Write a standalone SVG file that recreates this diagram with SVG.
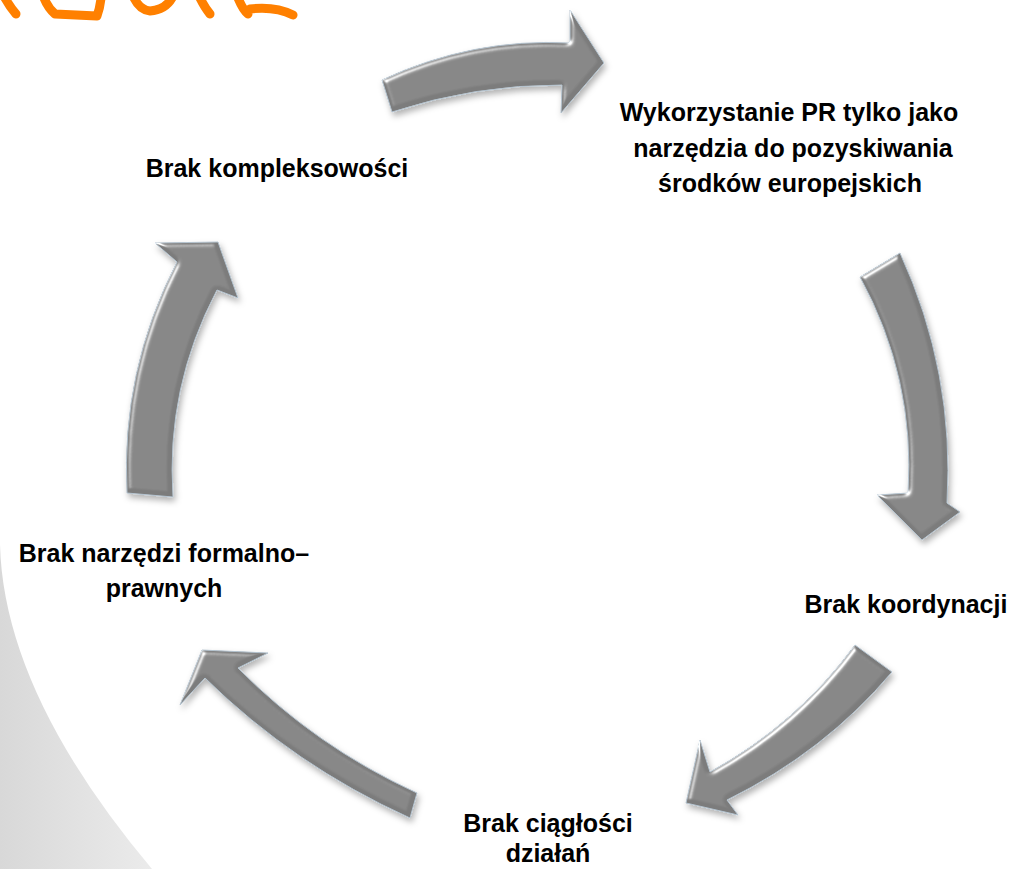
<svg xmlns="http://www.w3.org/2000/svg" width="1015" height="869" viewBox="0 0 1015 869">
  <defs>
    <style>
      .lbl { font-family: "Liberation Sans", Arial, sans-serif; font-weight: bold; font-size: 25px; fill: #000; text-anchor: middle; }
      .arrow { fill: #7c7c7c; stroke: #b4c3cf; stroke-width: 1; stroke-linejoin: miter; filter: url(#bevel); }
      .ink { fill: none; stroke: #ff8000; stroke-width: 9; stroke-linecap: round; stroke-linejoin: round; }
    </style>
    <linearGradient id="sideShade" x1="0" y1="0" x2="1" y2="0">
      <stop offset="0" stop-color="#d8d8d8"/>
      <stop offset="1" stop-color="#ebebeb"/>
    </linearGradient>
    <!-- bevelled grey body with soft drop shadow -->
    <filter id="bevel" x="-25%" y="-25%" width="150%" height="150%">
      <feGaussianBlur in="SourceAlpha" stdDeviation="2.5" result="b"/>
      <feSpecularLighting in="b" surfaceScale="3" specularConstant="1" specularExponent="30" lighting-color="#ffffff" result="s">
        <feDistantLight azimuth="225" elevation="40"/>
      </feSpecularLighting>
      <feComposite in="s" in2="SourceAlpha" operator="in" result="s2"/>
      <feComposite in="SourceGraphic" in2="s2" operator="arithmetic" k1="0" k2="1" k3="0.9" k4="0" result="lit"/>
      <feGaussianBlur in="SourceAlpha" stdDeviation="3" result="sh"/>
      <feOffset in="sh" dx="2" dy="4" result="sho"/>
      <feFlood flood-color="#000" flood-opacity="0.3"/>
      <feComposite in2="sho" operator="in" result="shadow"/>
      <feMerge>
        <feMergeNode in="shadow"/>
        <feMergeNode in="lit"/>
      </feMerge>
    </filter>
  </defs>

  <rect width="1015" height="869" fill="#ffffff"/>

  <!-- light side panel, lower left -->
  <path d="M0,545 Q4,693 152,869 L0,869 Z" fill="url(#sideShade)"/>

  <!-- orange hand-drawn strokes along the top edge -->
  <g id="heading-strokes">
    <path class="ink" d="M5,-2 Q10,7 16,14"/>
    <path class="ink" d="M44,-2 Q48,8 55,14 L97,16 Q100,8 101,-2"/>
    <path class="ink" d="M134,-2 Q140,10 150,11 Q165,10 172,-2"/>
    <path class="ink" d="M200,-2 Q205,8 210,14"/>
    <path class="ink" d="M238,-2 Q243,10 248,14 M250,9 Q275,6 293,15"/>
  </g>

  <!-- cycle connectors -->
  <g id="connectors">
    <path class="arrow" d="M382,80 Q472.3,37.7 570,43 L570,10 L604,63 L561,113 L562,85 Q474.8,84.7 392,112 Z"/>
    <path class="arrow" d="M900,253 Q954.9,371.8 947,503 L960,512 L922,540 L877,495 L908,493 Q915.4,378.6 860,277 Z"/>
    <path class="arrow" d="M855,645 Q796.7,724.3 710,772 L700,740 L686,803 L738,815 L727,800 Q824.7,751.8 892,672 Z"/>
    <path class="arrow" d="M417,793 Q315.4,746.4 238,668 L268,653 L202,650 L180,705 L205,678 Q294.1,765.5 410,818 Z"/>
    <path class="arrow" d="M127,493 Q120.6,371.1 177,262 L155,243 L218,242 L238,298 L217,290 Q165.6,387.5 173,497 Z"/>
  </g>

  <g id="node-pr">
    <text class="lbl" x="789" y="121">Wykorzystanie PR tylko jako</text>
    <text class="lbl" x="793" y="157">narzędzia do pozyskiwania</text>
    <text class="lbl" x="790" y="192">środków europejskich</text>
  </g>
  <g id="node-koordynacja">
    <text class="lbl" x="906" y="613">Brak koordynacji</text>
  </g>
  <g id="node-ciaglosc">
    <text class="lbl" x="548" y="832">Brak ciągłości</text>
    <text class="lbl" x="548" y="862">działań</text>
  </g>
  <g id="node-narzedzia">
    <text class="lbl" x="164" y="562">Brak narzędzi formalno–</text>
    <text class="lbl" x="164" y="597">prawnych</text>
  </g>
  <g id="node-kompleksowosc">
    <text class="lbl" x="277" y="177">Brak kompleksowości</text>
  </g>
</svg>
